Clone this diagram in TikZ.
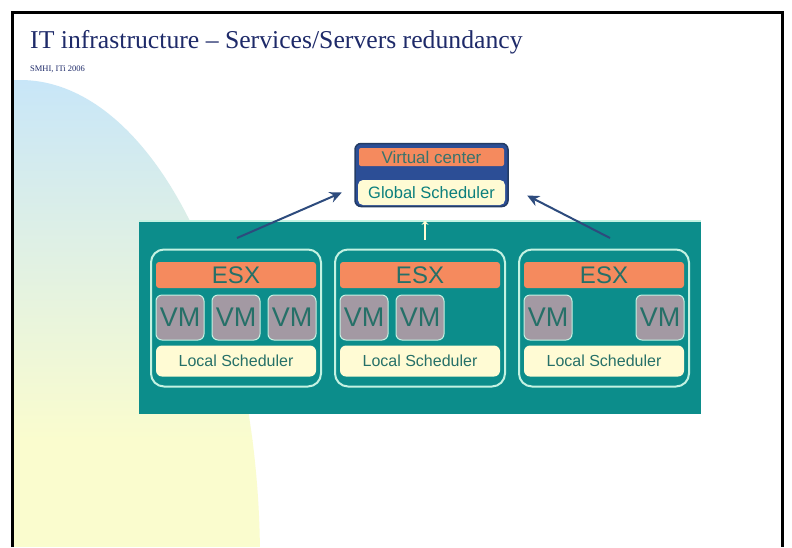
\documentclass[tikz,border=0pt]{standalone}
\usepackage{fontspec}
\setmainfont{Liberation Serif}
\setsansfont{Liberation Sans}
\usepackage{tikz}
\usetikzlibrary{arrows.meta}
\definecolor{tealbg}{RGB}{12,141,139}
\definecolor{orng}{RGB}{245,138,94}
\definecolor{cream}{RGB}{255,251,212}
\definecolor{mint}{RGB}{196,242,226}
\definecolor{vmgrey}{RGB}{163,153,163}
\definecolor{tealtxt}{RGB}{38,112,104}
\definecolor{dkblue}{RGB}{44,78,150}
\definecolor{arrowblue}{RGB}{45,75,125}
\definecolor{navy}{RGB}{30,42,105}
\definecolor{bgblue}{RGB}{200,230,248}
\definecolor{bgyellow}{RGB}{250,252,206}

\begin{document}
\begin{tikzpicture}[x=1pt,y=-1pt,
  slab/.style={inner sep=0pt,font=\sffamily,text=tealtxt},
  srv/.style={inner sep=0pt,draw=mint,line width=2pt,fill=tealbg,rounded corners=13pt,
    minimum width=170,minimum height=137},
  esxbar/.style={slab,fill=orng,rounded corners=3pt,minimum width=160,minimum height=26,
    font=\sffamily\fontsize{24}{24}\selectfont},
  vm/.style={slab,fill=vmgrey,draw=mint,line width=1pt,rounded corners=6pt,
    minimum width=48,minimum height=45,font=\sffamily\fontsize{27}{27}\selectfont},
  lsched/.style={slab,fill=cream,rounded corners=6pt,minimum width=160,minimum height=31,
    font=\sffamily\fontsize{16}{16}\selectfont},
  link/.style={-{Stealth[length=12pt,width=11pt]},line width=2pt,arrowblue}]
  \useasboundingbox (0,0) rectangle (792,547);
  \fill[white] (0,0) rectangle (792,547);
  % background blob
  \begin{scope}
    \clip (12,12) rectangle (782,547);
    \clip (20,560) ellipse [x radius=240,y radius=480];
    \shade[top color=bgblue,bottom color=bgyellow] (12,80) rectangle (262,440);
    \fill[bgyellow] (12,440) rectangle (262,547);
  \end{scope}
  \draw[line width=3pt] (12,547) -- (12,12) -- (782,12) -- (782,547);
  \node[anchor=base west,inner sep=0pt,text=navy,font=\fontsize{25.7}{26}\selectfont]
    (title) at (30,48) {IT infrastructure \textendash{} Services/Servers redundancy};
  \node[anchor=base west,inner sep=0pt,text=navy,font=\fontsize{8.5}{9}\selectfont]
    (sub) at (30,71.5) {SMHI, ITi 2006};
  % cluster
  \node[fill=tealbg,inner sep=0pt,minimum width=562,minimum height=193] (cl) at (420,317.5) {};
  \draw[mint,line width=1.5pt] (cl.north west) -- (cl.north east);
  \foreach \i/\cx in {1/236,2/420,3/604} {
    \node[srv] (srv\i) at (\cx,318) {};
    \node[esxbar] (esx\i) at (\cx,275) {ESX};
    \node[lsched] (ls\i) at (\cx,361) {Local Scheduler};
  }
  \foreach \i/\j/\cx in {1/1/180,1/2/236,1/3/292,2/1/364,2/2/420,3/1/548,3/2/660}
    \node[vm] (vm\i\j) at (\cx,317.5) {VM};
  % virtual center
  \node[inner sep=0pt,fill=dkblue,draw=arrowblue!80!black,line width=1.5pt,rounded corners=6pt,
    minimum width=153,minimum height=63] (vc) at (431.5,175) {};
  \node[slab,fill=orng,rounded corners=2pt,minimum width=145,minimum height=18,
    text=tealtxt!80!gray,font=\sffamily\fontsize{17}{17}\selectfont] (vcname) at (431.5,157) {Virtual center};
  \node[slab,fill=cream,rounded corners=5pt,minimum width=147,minimum height=25,
    text=tealbg!90!black,font=\sffamily\fontsize{16.5}{17}\selectfont] (gs) at (431.5,192.5) {Global Scheduler};
  % arrows
  \coordinate (la) at (237,238);
  \coordinate (ra) at (610,238);
  \coordinate (lt) at ([xshift=-16pt]gs.west);
  \coordinate (rt) at ([xshift=22pt,yshift=-3pt]gs.east);
  \draw[link] (la) -- (lt);
  \draw[link] (ra) -- (rt);
  \coordinate (up) at (425,240);
  \draw[-{Stealth[length=4pt,width=7pt]},cream,line width=1.5pt] (up) -- (up |- cl.north);
\end{tikzpicture}
\end{document}
